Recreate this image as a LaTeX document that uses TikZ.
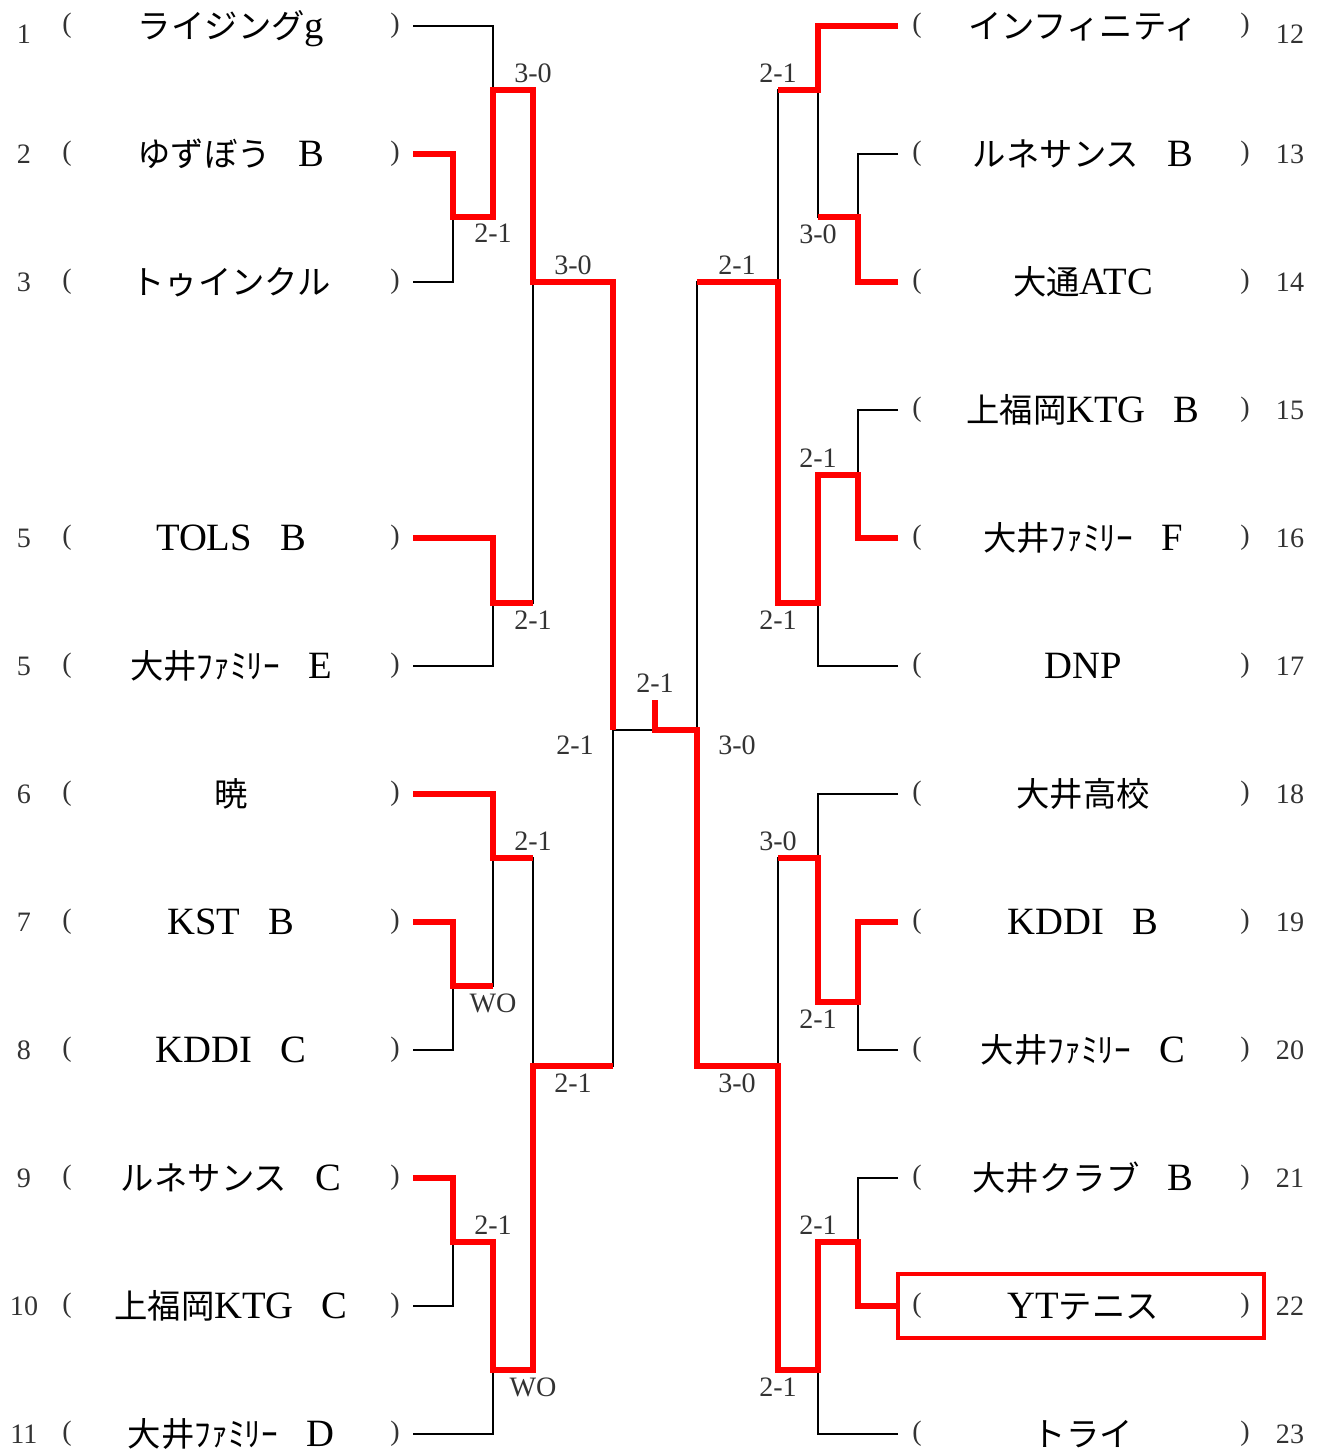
\documentclass[tikz,border=0pt]{standalone}
\usepackage{fontspec}
\setmainfont{Liberation Serif}
\newfontfamily\cjk{Noto Sans CJK JP}
\newcommand{\jp}[1]{{\cjk\fontsize{19}{19}\selectfont #1}}
\newcommand{\gap}{\hspace{16pt}}

\begin{document}
\begin{tikzpicture}[x=0.02cm, y=-0.02cm,
	line/.style={line width=1.6pt},
	win/.style={line width=3.4pt, red},
	team/.style={font=\fontsize{22}{22}\selectfont, text height=14.5pt, text depth=0pt, inner sep=0pt},
	score/.style={font=\fontsize{16}{16}\selectfont, text=black!80, inner sep=1pt},
	num/.style={font=\fontsize{16}{16}\selectfont, text=black!80, inner sep=0pt},
	paren/.style={font=\fontsize{16}{16}\selectfont, text=black!80, inner sep=0pt}]
	\useasboundingbox (0,0) rectangle (1316,1451);

	% left half
	\foreach \r/\n/\t in {0/1/{\jp{ライジング}g}, 1/2/{\jp{ゆずぼう}\gap B}, 2/3/{\jp{トゥインクル}},
		4/5/{TOLS\gap B}, 5/5/{\jp{大井ﾌｧﾐﾘｰ}\gap E}, 6/6/{\jp{暁}}, 7/7/{KST\gap B},
		8/8/{KDDI\gap C}, 9/9/{\jp{ルネサンス}\gap C}, 10/10/{\jp{上福岡}KTG\gap C},
		11/11/{\jp{大井ﾌｧﾐﾘｰ}\gap D}} {
		\pgfmathsetmacro\ny{\r==0 ? 34 : 26+128*\r}
		\node[num] (nL\r) at (24, \ny) {\n};
		\node[paren] (oL\r) at (67, {26+128*\r}) {(};
		\node[team] (tmL\r) at (231, {26+128*\r}) {\t};
		\node[paren] (cL\r) at (395, {26+128*\r}) {)};
		\coordinate (tL\r) at (413, {26+128*\r});
	}

	% right half
	\foreach \r/\n/\t in {0/12/{\jp{インフィニティ}}, 1/13/{\jp{ルネサンス}\gap B}, 2/14/{\jp{大通}ATC},
		3/15/{\jp{上福岡}KTG\gap B}, 4/16/{\jp{大井ﾌｧﾐﾘｰ}\gap F}, 5/17/{DNP}, 6/18/{\jp{大井高校}},
		7/19/{KDDI\gap B}, 8/20/{\jp{大井ﾌｧﾐﾘｰ}\gap C}, 9/21/{\jp{大井クラブ}\gap B},
		10/22/{YT\jp{テニス}}, 11/23/{\jp{トライ}}} {
		\pgfmathsetmacro\ny{\r==0 ? 34 : 26+128*\r}
		\node[num] (nR\r) at (1290, \ny) {\n};
		\node[paren] (oR\r) at (917, {26+128*\r}) {(};
		\node[team] (tmR\r) at (1083, {26+128*\r}) {\t};
		\node[paren] (cR\r) at (1245, {26+128*\r}) {)};
		\coordinate (tR\r) at (898, {26+128*\r});
	}

	% match points
	\coordinate (pL1) at (453,217);
	\coordinate (pL2) at (493,90);
	\coordinate (pL3) at (493,603);
	\coordinate (pL4) at (453,986);
	\coordinate (pL5) at (493,858);
	\coordinate (pL6) at (453,1242);
	\coordinate (pL7) at (493,1370);
	\coordinate (qL1) at (533,282);
	\coordinate (qL2) at (533,1066);
	\coordinate (sL) at (613,730);
	\coordinate (pR1) at (858,217);
	\coordinate (pR2) at (818,90);
	\coordinate (pR3) at (858,475);
	\coordinate (pR4) at (818,603);
	\coordinate (pR5) at (858,1002);
	\coordinate (pR6) at (818,858);
	\coordinate (pR7) at (858,1242);
	\coordinate (pR8) at (818,1370);
	\coordinate (qR1) at (778,282);
	\coordinate (qR2) at (778,1066);
	\coordinate (sR) at (697,730);
	\coordinate (fin) at (655,730);
	\coordinate (top) at (655,700);

	% bracket
	\draw[line] (tL0) -| (pL2);
	\draw[line] (tL1) -| (pL1) -| (pL2) -| (qL1) -| (sL) -- (fin);
	\draw[line] (tL2) -| (pL1);
	\draw[line] (tL4) -| (pL3) -| (qL1);
	\draw[line] (tL5) -| (pL3);
	\draw[line] (tL6) -| (pL5) -| (qL2) -| (sL);
	\draw[line] (tL7) -| (pL4) -| (pL5);
	\draw[line] (tL8) -| (pL4);
	\draw[line] (tL9) -| (pL6) -| (pL7) -| (qL2);
	\draw[line] (tL10) -| (pL6);
	\draw[line] (tL11) -| (pL7);

	\draw[line] (tR0) -| (pR2) -| (qR1) -| (sR) -- (fin);
	\draw[line] (tR1) -| (pR1) -| (pR2);
	\draw[line] (tR2) -| (pR1);
	\draw[line] (tR3) -| (pR3) -| (pR4) -| (qR1);
	\draw[line] (tR4) -| (pR3);
	\draw[line] (tR5) -| (pR4);
	\draw[line] (tR6) -| (pR6) -| (qR2) -| (sR);
	\draw[line] (tR7) -| (pR5) -| (pR6);
	\draw[line] (tR8) -| (pR5);
	\draw[line] (tR9) -| (pR7) -| (pR8) -| (qR2);
	\draw[line] (tR10) -| (pR7);
	\draw[line] (tR11) -| (pR8);

	% winners
	\draw[win] (tL1) -| (pL1) -| (pL2) -| (qL1) -| (sL);
	\draw[win] (tL4) -| (pL3) -- (qL1 |- pL3);
	\draw[win] (tL6) -| (pL5) -- (qL2 |- pL5);
	\draw[win] (tL7) -| (pL4) -- (pL5 |- pL4);
	\draw[win] (tL9) -| (pL6) -| (pL7) -| (qL2) -- (sL |- qL2);
	\draw[win] (tR0) -| (pR2) -- (qR1 |- pR2);
	\draw[win] (tR2) -| (pR1) -- (pR2 |- pR1);
	\draw[win] (tR4) -| (pR3) -| (pR4) -| (qR1) -- (sR |- qR1);
	\draw[win] (tR7) -| (pR5) -| (pR6) -- (qR2 |- pR6);
	\draw[win] (tR10) -| (pR7) -| (pR8) -| (qR2) -| (sR) -- (fin) -- (top);
	\draw[win, line width=2.8pt] (tR10) ++(0,-32) rectangle ++(366,64);

	% scores
	\node[score, below=3pt] at (pL2 |- pL1) {2-1};
	\node[score, above=3pt] at (qL1 |- pL2) {3-0};
	\node[score, below=3pt] at (qL1 |- pL3) {2-1};
	\node[score, above=3pt] at (573,282) {3-0};
	\node[score, below=3pt] at (pL5 |- pL4) {WO};
	\node[score, above=3pt] at (qL2 |- pL5) {2-1};
	\node[score, above=3pt] at (pL7 |- pL6) {2-1};
	\node[score, below=3pt] at (qL2 |- pL7) {WO};
	\node[score, below=3pt] at (573,1066) {2-1};
	\node[score] at (575,745) {2-1};
	\node[score, above=3pt] at (top) {2-1};

	\node[score, below=3pt] at (pR2 |- pR1) {3-0};
	\node[score, above=3pt] at (qR1 |- pR2) {2-1};
	\node[score, above=3pt] at (pR4 |- pR3) {2-1};
	\node[score, below=3pt] at (qR1 |- pR4) {2-1};
	\node[score, above=3pt] at (737,282) {2-1};
	\node[score, below=3pt] at (pR6 |- pR5) {2-1};
	\node[score, above=3pt] at (qR2 |- pR6) {3-0};
	\node[score, above=3pt] at (pR8 |- pR7) {2-1};
	\node[score, below=3pt] at (qR2 |- pR8) {2-1};
	\node[score, below=3pt] at (737,1066) {3-0};
	\node[score] at (737,745) {3-0};
\end{tikzpicture}
\end{document}
